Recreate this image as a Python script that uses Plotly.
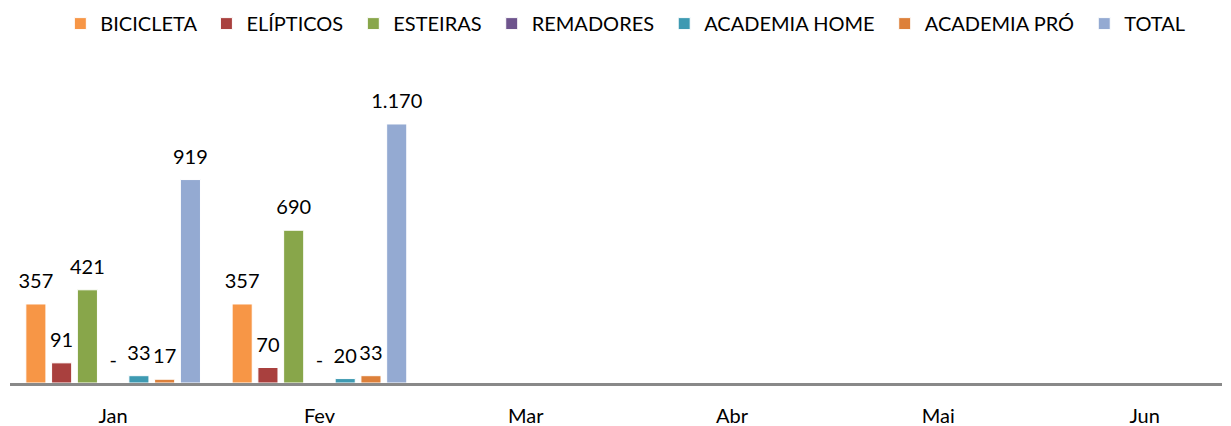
import plotly.graph_objects as go

months = ["Jan", "Fev", "Mar", "Abr", "Mai", "Jun"]
series_names = ["BICICLETA", "ELÍPTICOS", "ESTEIRAS", "REMADORES", "ACADEMIA HOME", "ACADEMIA PRÓ", "TOTAL"]
bicicleta = [357, 357, None, None, None, None]
elipticos = [91, 70, None, None, None, None]
esteiras = [421, 690, None, None, None, None]
remadores = [0, 0, None, None, None, None]
academia_home = [33, 20, None, None, None, None]
academia_pro = [17, 33, None, None, None, None]
total = [919, 1170, None, None, None, None]

colors = ["#F79646", "#A9403E", "#88A64A", "#6E548D", "#3E9AB2", "#DD803A", "#94AAD2"]
all_values = [bicicleta, elipticos, esteiras, remadores, academia_home, academia_pro, total]


def fmt(v):
    if v is None:
        return ""
    if v == 0:
        return "-"
    return f"{v:,}".replace(",", ".")


FONT = "Lato"
GAP = 0.126
fig = go.Figure()
n = len(series_names)
for i, (name, vals, col) in enumerate(zip(series_names, all_values, colors)):
    legend_name = name + ("\u00a0" if i < n - 1 else "")
    fig.add_trace(go.Bar(
        name=legend_name, x=months, y=vals, offsetgroup=str(i),
        marker=dict(color=col, line=dict(color="white", width=1)),
        hovertemplate=name + ": %{y}<extra></extra>",
    ))
for i, (name, vals) in enumerate(zip(series_names, all_values)):
    fig.add_trace(go.Scatter(
        x=months, y=vals, offsetgroup=str(i), mode="markers+text",
        text=[fmt(v) for v in vals], textposition="top center",
        textfont=dict(family=FONT, size=20, color="#000000"),
        marker=dict(size=16, opacity=0), showlegend=False, hoverinfo="skip",
        cliponaxis=False,
    ))

# page body has an 8px default margin, so the figure is sized to fit the window
fig.update_layout(
    width=1223, height=418,
    margin=dict(l=2, r=9, t=52, b=43, autoexpand=False),
    paper_bgcolor="white", plot_bgcolor="white",
    barmode="group", bargap=GAP, bargroupgap=0.22,
    scattermode="group", scattergap=GAP,
    font=dict(family=FONT, size=20, color="#000000"),
    showlegend=True,
    legend=dict(orientation="h", x=0.5077, xanchor="center", y=1.173, yanchor="top",
                font=dict(family=FONT, size=20, color="#000000"),
                traceorder="normal", itemwidth=30),
    xaxis=dict(range=[-0.5, 5.375], showgrid=False, showline=True, linecolor="#898989",
               linewidth=2.5, ticks="", tickfont=dict(family=FONT, size=20),
               ticklabelstandoff=13, zeroline=False, automargin=False),
    yaxis=dict(range=[0, 1459], visible=False, showgrid=False, zeroline=False, automargin=False),
)

fig.write_html("out.html")
